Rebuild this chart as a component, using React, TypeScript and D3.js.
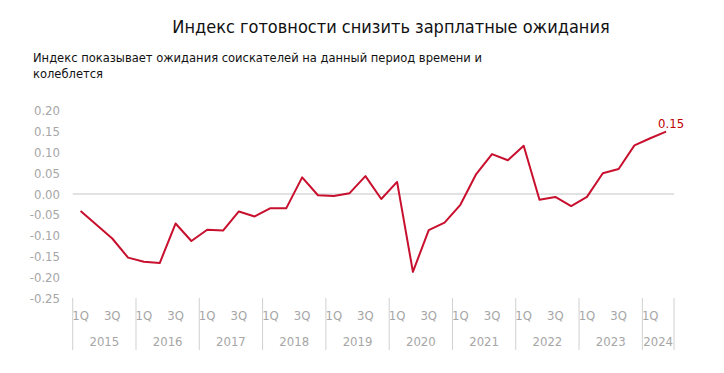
import React from "react";
import * as d3 from "d3";

const years = ["2015", "2016", "2017", "2018", "2019", "2020", "2021", "2022", "2023", "2024"];
const quartersPerYear = [4, 4, 4, 4, 4, 4, 4, 4, 4, 2];
const quarterNames = ["1Q", "2Q", "3Q", "4Q"];
const values = [
  -0.041, -0.074, -0.107, -0.153, -0.163, -0.166, -0.071, -0.113, -0.086, -0.088,
  -0.042, -0.054, -0.034, -0.034, 0.040, -0.003, -0.005, 0.002, 0.043, -0.012,
  0.029, -0.187, -0.087, -0.069, -0.026, 0.048, 0.096, 0.081, 0.116, -0.014,
  -0.007, -0.029, -0.007, 0.050, 0.060, 0.117, 0.134, 0.150,
];
const yTicks = [0.2, 0.15, 0.1, 0.05, 0, -0.05, -0.1, -0.15, -0.2, -0.25];
const title = "Индекс готовности снизить зарплатные ожидания";
const subtitle1 = "Индекс показывает ожидания соискателей на данный период времени и";
const subtitle2 = "колеблется";
const lastLabel = "0.15";

type Cat = { key: string; q: string; yearIdx: number };
const cats: Cat[] = [];
years.forEach((y, yi) => {
  for (let q = 0; q < quartersPerYear[yi]; q++) cats.push({ key: `${y}-${q}`, q: quarterNames[q], yearIdx: yi });
});

export default function App() {
  const W = 724, H = 373;
  const left = 72.7, right = 674;
  const x = d3.scaleBand<string>().domain(cats.map((c) => c.key)).range([left, right]).padding(0);
  const y = d3.scaleLinear().domain([-0.25, 0.2]).range([298, 110.8]);
  const line = d3
    .line<number>()
    .x((_, i) => (x(cats[i].key) as number) + x.bandwidth() / 2)
    .y((d) => y(d));
  const gray = "#A6A6A6";
  const font = "'DejaVu Sans Condensed', 'Liberation Sans', sans-serif";
  const bounds: number[] = [];
  let acc = 0;
  bounds.push(acc);
  quartersPerYear.forEach((n) => { acc += n; bounds.push(acc); });
  const bx = (k: number) => left + k * x.bandwidth();
  const lastI = values.length - 1;
  const lastX = (x(cats[lastI].key) as number) + x.bandwidth() / 2;
  return (
    <svg width={W} height={H} style={{ position: "absolute", left: 0, top: 0, background: "#fff" }} fontFamily={font}>
      <text x={391} y={33} textAnchor="middle" fontSize={18} fill="#111">{title}</text>
      <text x={33} y={62} fontSize={12.8} fill="#111">{subtitle1}</text>
      <text x={33} y={78} fontSize={12.8} fill="#111">{subtitle2}</text>
      {yTicks.map((t) => (
        <text key={t} x={60} y={y(t)} dy="0.35em" textAnchor="end" fontSize={13} fill={gray}>
          {t.toFixed(2)}
        </text>
      ))}
      <line x1={left} x2={right} y1={y(0)} y2={y(0)} stroke="#D9D9D9" strokeWidth={1.3} />
      {bounds.map((k, i) => (
        <line key={i} x1={bx(k)} x2={bx(k)} y1={298} y2={350} stroke="#D0D0D0" strokeWidth={1} />
      ))}
      {cats.map((c) =>
        c.q === "1Q" || c.q === "3Q" ? (
          <text key={c.key} x={(x(c.key) as number) + x.bandwidth() / 2} y={320} textAnchor="middle" fontSize={13} fill={gray}>
            {c.q}
          </text>
        ) : null
      )}
      {years.map((yr, i) => (
        <text key={yr} x={(bx(bounds[i]) + bx(bounds[i + 1])) / 2} y={346} textAnchor="middle" fontSize={13} fill={gray}>
          {yr}
        </text>
      ))}
      <path d={line(values) || ""} fill="none" stroke="#C8102E" strokeWidth={2} strokeLinejoin="round" />
      <text x={lastX + 5} y={128} textAnchor="middle" fontSize={13} fill="#C00000">{lastLabel}</text>
    </svg>
  );
}
